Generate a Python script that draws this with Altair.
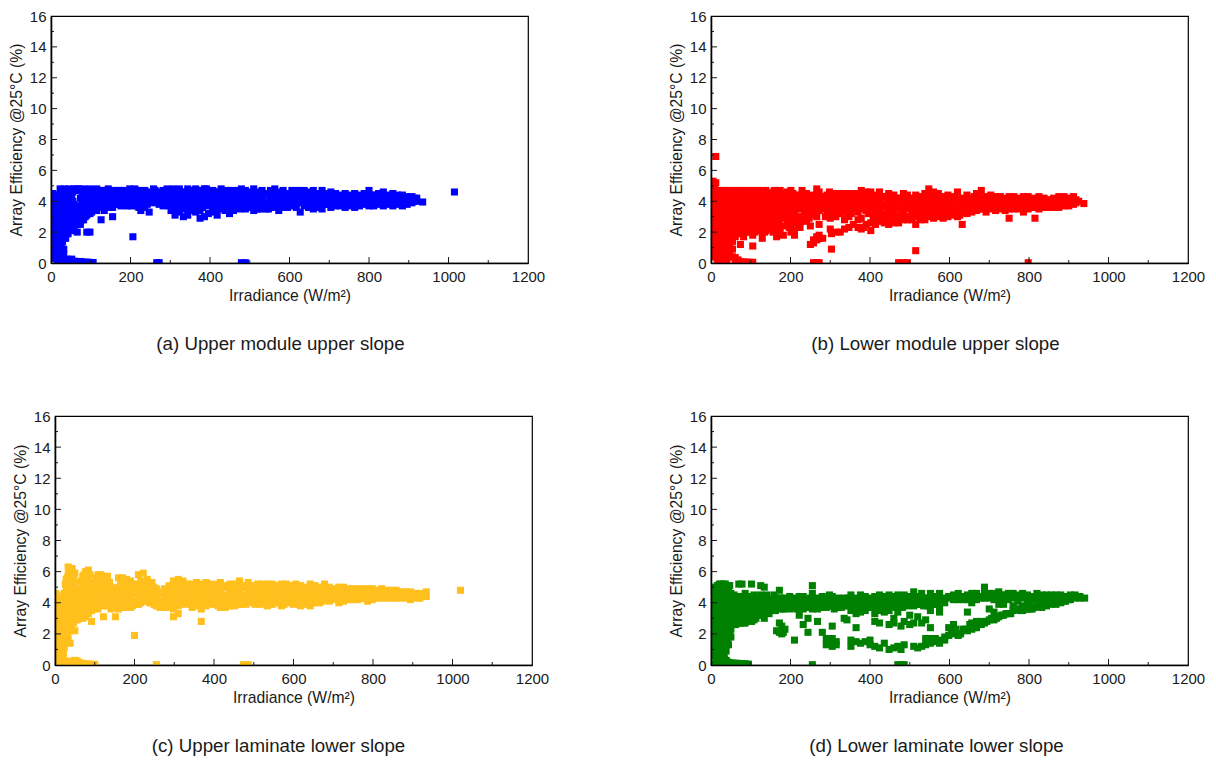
import altair as alt
import pandas as pd

# Each entry: irradiance (W/m2), then efficiency readings (%) seen in that column of points.
upper_module_upper_slope = [
 (1,[4.4,3.9,3.3,2.8,2.3,2.0]),(5,[4.5,3.8,3.2,2.6,2.1,1.5,1.0]),(9,[4.2,3.6,3.0,2.4,1.9,1.4,0.9,0.5]),
 (13,[3.9,3.3,2.7,2.2,1.7,1.2,0.7,0.3]),(18,[4.4,3.7,3.1,2.6,2.1,1.6,1.1,0.6,0.25]),(23,[4.8,4.2,3.6,3.0,2.5,2.0,1.5,1.0,0.5,0.15]),
 (29,[4.7,4.1,3.5,2.9,2.4,1.9,1.4,0.15]),(34,[4.8,3.8,3.3,2.8,2.3,1.8,0.12]),(40,[4.6,4.1,3.4,2.9,2.4,1.9,0.25]),
 (46,[4.8,4.4,3.8,3.2,2.7,2.2,0.2]),(52,[4.3,3.6,3.1,2.6,2.1,0.25]),(58,[4.8,3.8,3.3,2.8,2.3,0.12]),
 (66,[4.8,3.7,3.2,2.7,2.0,0.08]),(74,[4.7,4.2,3.5,3.0,2.5,0.1]),(82,[4.8,4.3,3.8,3.3,2.8,0.06]),(90,[4.6,4.0,3.5,3.1,2.0,0.06]),
 (98,[4.8,4.2,3.7,3.2,2.0,0.04]),(106,[4.5,4.1,3.4,0.03]),(115,[4.8,4.4,3.8,3.4]),(126,[4.7,4.2,3.6,2.8]),(134,[4.4,3.9,3.4]),
 (144,[4.8,4.3,3.8]),(155,[4.5,4.0,3.6,3.0]),(166,[4.3,3.8]),(176,[4.6,4.2,3.7]),(187,[4.4,3.9]),(198,[4.8,4.3,3.8]),(206,[4.5,1.7]),
 (216,[4.6,4.1,3.7]),(226,[4.3,3.9,3.4]),(236,[4.7,4.2,3.6]),(247,[4.6,4.0,3.3]),(258,[4.8,4.4,3.9]),(266,[4.5,4.1,0.02]),(272,[4.3,3.8,0.02]),
 (282,[4.7,4.2,3.7]),(292,[4.8,4.4,3.9]),(302,[4.5,4.0,3.4]),(312,[4.7,4.2,3.7,3.1]),(323,[4.8,4.3,3.9,3.3]),(333,[4.6,4.1,3.0]),
 (344,[4.8,4.4,3.7,3.1]),(354,[4.7,4.2,3.6]),(364,[4.8,4.4,3.9,3.3]),(375,[4.7,4.1,3.4,2.9]),(386,[4.8,4.3,3.8,3.0]),(396,[4.6,4.1,3.2]),
 (407,[4.7,4.2,3.7,3.3]),(418,[4.4,3.9,3.1]),(428,[4.8,4.3,3.6]),(438,[4.7,4.1,3.4]),(449,[4.6,4.0,3.2]),(459,[4.5,3.9,3.4]),
 (470,[4.7,4.2,3.6]),(479,[4.8,4.3,3.8,0.02]),(489,[4.7,4.1,3.5,0.02]),(499,[4.5,4.0,3.6]),(510,[4.8,4.3,3.7,3.4]),(520,[4.6,4.0,3.5]),
 (531,[4.7,4.2,3.7]),(541,[4.5,3.9,3.5]),(552,[4.7,4.1,3.6]),(563,[4.8,4.3,3.8]),(573,[4.6,4.0,3.4]),(584,[4.7,4.2,3.6]),
 (595,[4.5,4.0,3.6]),(606,[4.7,4.1,3.7]),(617,[4.6,4.2,3.6]),(627,[4.4,3.9,3.3]),(637,[4.7,4.1,3.7]),(648,[4.6,4.0,3.6]),
 (660,[4.7,4.2,3.5]),(671,[4.5,4.0,3.6]),(682,[4.7,4.1,3.5]),(693,[4.5,4.2,3.8]),(704,[4.6,4.0,3.6]),(716,[4.5,4.1,3.7]),
 (728,[4.4,4.0,3.7]),(740,[4.5,4.2,3.6]),(752,[4.4,4.0,3.7]),(764,[4.5,4.1,3.6]),(776,[4.4,4.0,3.7]),(788,[4.5,4.1,3.8]),
 (800,[4.7,4.2,3.7]),(812,[4.4,4.0,3.7]),(824,[4.5,4.1,3.8]),(836,[4.6,4.0,3.7]),(848,[4.4,4.1,3.8]),(860,[4.5,4.0,3.7]),
 (872,[4.4,4.1,3.8]),(884,[4.4,4.0,3.7]),(896,[4.3,4.0,3.8]),(908,[4.3,4.1,3.9]),(920,[4.2,4.0]),(935,[3.95]),(1015,[4.6]),
]
upper_module_fill = [
 (3,[4.1,3.6,3.0,2.5,1.7,1.2]),(7,[4.3,3.5,2.9,2.3,1.7,1.2,0.8]),(11,[3.9,3.3,2.7,2.1,1.6,1.1,0.7,0.3]),(15,[3.6,3.0,2.4,1.9,1.4,0.9,0.5,0.2]),
 (20,[4.1,3.4,2.8,2.3,1.8,1.3,0.8,0.4]),(26,[4.5,3.9,3.3,2.7,2.2,1.7,1.2,0.8,0.4,0.2]),(32,[4.4,3.7,3.1,2.6,2.1,1.6,0.9,0.6]),(37,[4.5,4.0,3.5,3.0,2.5,2.1,1.6]),
 (43,[4.6,3.7,3.2,2.7,2.2,1.9]),(49,[4.1,3.5,3.0,2.5,2.1]),(55,[4.6,4.0,3.4,2.9,2.4]),(62,[4.7,3.5,3.0,2.5]),(70,[4.8,3.5,3.0,2.6]),(78,[4.6,4.0,3.2,2.8]),
 (86,[4.6,4.1,3.6,3.0]),(94,[4.7,4.3,3.8,3.3]),(102,[4.7,4.3,3.8,3.3]),(110,[4.7,4.2,3.7]),(120,[4.6,4.1,3.6]),(130,[4.7,4.1,3.7]),(139,[4.6,4.1,3.6]),
 (149,[4.6,4.1,3.7]),(160,[4.7,4.2,3.8]),(171,[4.7,4.1,3.8]),(181,[4.7,4.1,3.8]),(192,[4.6,4.2,3.7]),(202,[4.1,3.7]),(211,[4.8,4.3,3.9]),(221,[4.7,4.1,3.6]),
 (231,[4.5,4.0]),(242,[4.4,3.8]),(252,[4.5,4.1]),(262,[4.7,4.2]),(277,[4.6,4.0]),(287,[4.5,4.0]),(297,[4.6,4.2,3.7]),(307,[4.8,4.2,3.8]),(318,[4.5,4.0,3.5]),
 (328,[4.6,4.1,3.6]),(339,[4.5,3.9,3.5]),(349,[4.6,4.0,3.4]),(359,[4.6,4.1,3.7]),(370,[4.6,4.2,3.6]),(381,[4.5,4.0,3.6]),(391,[4.8,4.4,3.7]),(402,[4.4,3.9]),
 (413,[4.6,4.1,3.5]),(423,[4.6,4.1,3.5]),(433,[4.6,4.0,3.7]),(444,[4.4,3.8,3.5]),(454,[4.7,4.2,3.7]),(465,[4.4,4.0,3.6]),(475,[4.6,4.0,3.5]),(484,[4.5,4.0,3.6]),
 (494,[4.4,3.9]),(505,[4.6,4.1,3.8]),(515,[4.5,4.1,3.9]),(526,[4.5,4.0,3.5]),(536,[4.4,3.9]),(547,[4.4,3.9,3.5]),(558,[4.5,4.0,3.6]),(568,[4.5,4.1,3.7]),
 (579,[4.4,3.9]),(590,[4.5,4.1,3.8]),(601,[4.4,3.9]),(612,[4.5,4.0]),(622,[4.7,4.1]),(632,[4.5,4.0]),(643,[4.4,3.9]),(654,[4.5,3.9]),(666,[4.5,3.9]),(677,[4.4,3.8]),
 (688,[4.4,3.9]),(699,[4.4,3.8]),(710,[4.4,3.9]),(722,[4.3,3.9]),(734,[4.3,3.9]),(746,[4.3,3.9]),(758,[4.3,3.9]),(770,[4.3,3.9]),(782,[4.3,3.9]),(794,[4.4,3.9]),
 (806,[4.4,3.9]),(818,[4.3,3.9]),(830,[4.3,3.9]),(842,[4.3,3.9]),(854,[4.3,3.9]),(866,[4.3,3.9]),(878,[4.2,3.9]),(890,[4.2,3.9]),(902,[4.2,4.0]),(914,[4.2,4.0]),
]

lower_module_upper_slope = [
 (1,[5.2,4.7,4.1,3.5,2.9,2.3,1.9]),(5,[5.3,4.8,4.2,3.6,3.0,2.4,1.8,1.3]),(9,[4.9,4.3,3.7,3.1,2.5,1.9,1.3,0.8]),(12,[6.9,5.2,4.5,3.9,3.3,2.7,2.1,1.6,1.1,0.5]),
 (17,[4.6,4.0,3.4,2.8,2.2,1.6,1.0,0.5,0.2]),(22,[4.7,4.1,3.5,2.9,2.3,1.7,1.2,0.7,0.15]),(28,[4.6,4.2,3.6,2.8,2.4,1.8,1.3,0.8,0.12]),
 (34,[4.7,4.1,3.5,3.1,2.5,2.0,1.4,0.9,0.3,0.1]),(40,[4.6,3.9,3.3,2.7,2.1,1.6,1.0,0.2]),(47,[4.7,4.2,3.6,3.0,2.4,1.8,1.2,0.6,0.4]),
 (54,[4.5,4.0,3.4,2.8,2.2,1.4,0.9,0.4]),(61,[4.7,4.1,3.5,2.9,2.3,1.7,0.35,0.15]),(68,[4.6,3.9,3.3,2.6,1.9,0.2]),(74,[4.7,4.2,3.6,3.0,2.4,1.2,0.08]),
 (82,[4.5,4.0,3.4,2.8,2.1,1.7,0.07]),(90,[4.7,4.1,3.6,3.0,2.3,0.06]),(98,[4.6,3.8,3.3,2.6,2.0,0.05]),(105,[4.7,4.2,3.5,2.9,1.8,1.1,0.04]),
 (113,[4.5,3.9,3.3,2.7,2.1]),(121,[4.7,4.1,3.6,3.0,2.4]),(129,[4.6,4.0,3.4,2.8,2.0,1.6]),(138,[4.7,3.8,3.2,2.6,2.1]),(146,[4.5,4.1,3.5,2.9,2.3]),
 (156,[4.6,3.9,3.4,2.4,2.0]),(165,[4.4,3.8,3.1,2.7,1.7]),(174,[4.7,4.2,3.6,3.0,2.0]),(182,[4.5,3.9,3.3,1.8]),(192,[4.6,4.1,3.5,2.5]),
 (201,[4.7,4.2,3.7,2.9,2.4,2.0]),(210,[4.4,3.8,3.2,2.6,2.1,1.8]),(220,[4.3,3.7,3.0,2.3]),(229,[4.7,4.2,3.5]),(240,[4.5,4.0,3.3,2.7]),
 (250,[4.3,3.7,3.1,2.4,1.2]),(258,[4.4,3.9,3.5,1.5,1.3,0.02]),(266,[4.8,4.2,3.6,3.0,1.7,1.5,0.02]),(272,[4.6,4.0,3.4,2.5,1.8,1.6,0.02]),(281,[4.3,3.7,1.6]),
 (292,[4.4,3.9,3.2]),(303,[4.2,3.6,3.1,1.9,0.9]),(314,[4.5,4.0,3.5,3.0,2.0]),(325,[4.4,3.8,3.2,2.0]),(336,[4.3,3.6,2.8,2.2]),
 (347,[4.5,4.0,3.4,3.0,2.3]),(358,[4.4,3.7,2.5]),(370,[4.3,3.9,3.3,2.8,2.3]),(378,[4.7,4.1,3.5,2.9,2.2]),(390,[4.6,4.0,3.4,2.5]),
 (402,[4.6,4.1,3.6,2.6,2.1]),(414,[4.3,3.8,3.2,2.5]),(424,[4.6,4.0,3.4,2.7]),(436,[4.3,3.7,3.1,2.6]),(447,[4.5,3.9,3.3,2.5]),(460,[4.4,3.8,3.2,2.6]),
 (472,[4.2,3.7,3.1,2.6,0.02]),(484,[4.5,3.9,3.3,2.8,0.02]),(494,[4.4,3.6,2.8,0.02]),(505,[4.2,3.9,3.3,2.8]),(515,[4.4,3.7,3.1,2.5,0.8]),(526,[4.3,3.9,3.2,2.8]),
 (538,[4.5,4.0,3.5,2.8]),(548,[4.8,4.2,3.6,3.0]),(560,[4.6,4.0,3.4,2.9]),(572,[4.5,3.9,3.3,3.0]),(584,[4.3,3.8,3.2,2.9]),(596,[4.4,3.9,3.4,3.0]),
 (608,[4.3,3.7,3.1]),(620,[4.6,4.0,3.5,3.0]),(632,[4.2,3.8,3.3,2.5]),(644,[4.4,3.9,3.2]),(656,[4.2,3.7,3.3]),(668,[4.5,4.1,3.4]),
 (680,[4.7,4.2,3.6]),(692,[4.3,3.8,3.3]),(704,[4.4,3.9,3.5]),(716,[4.3,3.8,3.4]),(728,[4.3,3.9,3.5]),(740,[4.2,3.8,3.4]),(750,[4.3,3.9,3.5,2.9]),
 (762,[4.3,3.9,3.5]),(774,[4.2,3.8,3.5]),(786,[4.3,3.9,3.3]),(798,[4.3,3.9,3.5,0.02]),(810,[4.2,3.8,3.6]),(815,[3.6,2.9]),(825,[4.3,3.9,3.5]),
 (838,[4.2,3.8,3.6]),(850,[4.1,3.9,3.6]),(862,[4.2,3.9,3.6]),(875,[4.3,3.9,3.6]),(888,[4.3,4.0,3.7]),(900,[4.2,3.9,3.7]),(912,[4.3,4.0,3.8]),(925,[4.0]),(938,[3.85]),
]
lower_module_fill = [
 (3,[4.4,3.8,3.2,2.6,2.0,1.5,1.0]),(7,[4.5,3.9,3.3,2.7,2.1,1.6,1.1,0.7]),(11,[4.1,3.5,2.9,2.3,1.8,1.4,0.9,0.4]),(15,[4.3,3.7,3.1,2.5,1.9,1.3,0.8,0.3]),
 (20,[4.4,3.8,3.2,2.6,2.0,1.4,0.9,0.4]),(25,[4.4,3.8,3.2,2.6,2.1,1.5,1.0,0.5,0.2]),(31,[4.4,3.9,3.3,2.7,2.1,1.6,1.1,0.6]),(37,[4.4,3.8,3.3,2.8,2.2,1.7,1.2,0.5]),
 (44,[4.4,3.7,3.1,2.5,1.9,1.4]),(51,[4.4,3.8,3.2,2.6,2.0]),(58,[4.3,3.7,3.1,2.5,2.0]),(65,[4.4,3.7,3.1,2.4]),(71,[4.4,3.9,3.3,2.7,2.1]),(78,[4.5,3.8,3.2,2.6]),
 (86,[4.4,3.8,3.2,2.5,2.0]),(94,[4.4,3.8,3.3,2.7]),(102,[4.4,3.9,3.2,2.6]),(109,[4.5,3.7,3.1,2.5]),(117,[4.3,3.8,3.2,2.6]),(125,[4.4,3.8,3.2]),(134,[4.4,3.6,3.0]),
 (142,[4.3,3.7,3.0]),(151,[4.3,3.7,3.1]),(160,[4.7,4.2,3.6]),(170,[4.5,4.0,3.4]),(178,[4.4,3.6]),(187,[4.3,3.7,3.0]),(196,[4.4,3.8,3.2]),(206,[4.5,4.0,3.5]),
 (215,[4.1,3.5,2.8]),(225,[4.4,3.9]),(235,[4.4,3.8,3.1]),(245,[4.1,3.5]),(262,[4.1,3.3]),(276,[4.2,3.7]),(287,[4.1,3.5]),(298,[4.6,4.0,3.4]),(309,[4.3,3.7,3.2]),
 (320,[4.2,3.6]),(331,[4.5,4.0,3.4]),(342,[4.2,3.7,3.2]),(353,[4.3,3.9,3.2]),(364,[4.5,4.0,3.5]),(384,[4.3,3.8,2.3]),(396,[4.4,3.8,3.2]),(408,[4.4,3.9,3.0]),
 (419,[4.1,3.5,2.9]),(430,[4.3,3.7,3.0]),(442,[4.1,3.5,2.9]),(453,[4.2,3.6,3.0]),(466,[4.2,3.6,2.9]),(478,[4.1,3.5,2.9]),(489,[4.2,3.7,3.0]),(500,[4.0,3.5,3.0]),
 (510,[4.1,3.5,3.0]),(521,[4.1,3.5,3.0]),(532,[4.2,3.7,3.1]),(543,[4.3,3.8,3.3]),(554,[4.4,3.8,3.2]),(566,[4.2,3.7,3.1]),(578,[4.1,3.6,3.1]),(590,[4.1,3.6,3.2]),
 (602,[4.1,3.5,3.2]),(614,[4.2,3.8,3.3]),(626,[4.1,3.5,3.1]),(638,[4.1,3.6,3.4]),(650,[4.0,3.5]),(662,[4.3,3.8,3.4]),(674,[4.3,3.9,3.5]),(686,[4.0,3.5]),(698,[4.2,3.6]),
 (710,[4.1,3.7]),(722,[4.1,3.6]),(734,[4.0,3.6]),(745,[4.1,3.6]),(756,[4.1,3.7]),(768,[4.0,3.6]),(780,[4.1,3.6]),(792,[4.1,3.6]),(804,[4.1,3.7]),(818,[4.0,3.7]),
 (832,[4.1,3.7]),(844,[4.0,3.7]),(856,[4.0,3.8]),(868,[4.1,3.7]),(881,[4.1,3.8]),(894,[4.1,3.8]),(906,[4.1,3.9]),(918,[4.1,3.9]),
]
lower_module_lower_edge = [
 (42,[2.9,2.4]),(56,[2.7,2.2]),(72,[2.8,2.3]),(84,[2.6,2.0]),(96,[2.9,2.4,2.1]),(110,[2.8,2.3,2.0]),(124,[2.7,2.3]),(135,[2.9,2.4,2.0]),(148,[2.7,2.2]),
 (160,[2.9,2.5,2.1]),(171,[2.6,2.2]),(185,[2.9,2.4]),(197,[2.8,2.3]),(207,[3.0,2.6]),(224,[2.7,2.3]),(236,[2.8]),(247,[2.9]),(288,[3.0]),(300,[2.9,2.2]),
]

upper_laminate_lower_slope = [
 (1,[4.6,4.0,3.4,2.8,2.2,1.6,1.0]),(5,[4.5,3.9,3.3,2.7,2.1,1.5,0.9,0.5]),(9,[4.2,3.6,3.0,2.4,1.8,1.2,0.6,0.3]),(14,[3.8,3.2,2.6,2.0,1.4,0.8,0.2]),
 (18,[4.0,3.4,2.8,2.2,1.6,1.0,0.4,0.15]),(23,[4.6,4.1,3.5,2.9,2.3,1.7,1.1,0.2]),(28,[5.5,4.8,4.2,3.6,3.0,2.4,1.8,1.4,0.15]),(33,[6.3,5.8,5.3,4.7,4.1,3.5,2.9,2.3,1.7,0.2]),
 (38,[6.1,5.6,5.0,4.4,3.8,3.2,2.6,1.4,0.25]),(43,[6.2,5.7,4.6,4.0,3.4,2.8,0.2]),(50,[5.9,5.3,4.8,4.2,3.6,3.0,2.2,0.3]),(56,[4.5,3.9,3.3,2.9,0.25]),(63,[4.3,3.7,3.1,0.15]),
 (70,[5.7,5.1,4.6,4.0,3.4,3.0,0.1]),(77,[6.0,5.3,4.8,4.2,3.6,3.1,0.08]),(84,[6.1,5.5,4.5,3.9,3.3,0.06]),(92,[5.2,4.7,4.1,3.5,2.8,0.05]),(100,[4.9,4.3,3.7,0.04]),
 (108,[5.8,5.3,4.7,4.2,3.6]),(115,[5.8,5.1,4.5,3.9]),(122,[5.7,5.2,4.6,4.1,3.1]),(132,[5.7,5.0,4.4,3.8]),(141,[5.0,4.5,4.0,3.6]),(152,[4.9,4.3,3.8,3.1]),
 (160,[5.6,5.0,4.4,3.6]),(170,[5.6,5.0,4.4,3.9]),(180,[5.5,4.9,4.3,3.8]),(190,[5.4,4.8,4.2,3.7]),(200,[5.0,4.6,4.0,1.9]),(210,[5.8,5.0,4.4,3.9]),
 (222,[5.9,5.3,4.7,4.2]),(232,[5.5,4.9,4.3]),(244,[5.3,4.7,4.0]),(255,[4.9,4.4,3.8,0.02]),(264,[4.7,4.1,3.7]),(275,[4.9,4.4,3.8]),(287,[5.1,4.5,3.7]),
 (298,[5.4,4.8,4.2,3.6,3.1]),(310,[5.5,4.9,4.3,3.8,3.3]),(322,[5.4,4.8,4.2,3.9]),(334,[5.2,4.6,4.0]),(345,[5.2,4.7,4.2,3.7]),(356,[5.3,4.8,4.3,3.8]),
 (368,[5.2,4.6,4.1,3.6,2.8]),(380,[5.3,4.7,4.2,3.8]),(392,[5.2,4.7,4.1]),(404,[5.1,4.5,4.0]),(416,[5.3,4.7,4.2,3.7]),(428,[5.1,4.5,4.0,3.7]),(440,[5.2,4.7,4.2,3.8]),
 (452,[5.2,4.6,4.1,3.8]),(464,[5.4,4.8,4.3,3.9]),(474,[5.1,4.5,4.0,0.02]),(486,[5.3,4.7,4.1,0.02]),(498,[4.9,4.4,4.0]),(510,[5.2,4.6,4.0]),(522,[5.2,4.7,4.2]),
 (534,[5.2,4.6,4.0,3.8]),(546,[5.2,4.6,4.1,3.9]),(558,[5.1,4.5,4.0]),(570,[5.2,4.6,4.1,3.8]),(582,[5.2,4.7,4.3,4.0]),(594,[5.1,4.5,4.0]),(606,[5.2,4.6,4.1]),
 (618,[5.1,4.5,4.0,3.8]),(630,[5.0,4.6,4.2,3.9]),(642,[5.2,4.6,4.1,3.8]),(654,[5.1,4.5,4.1,4.0]),(666,[5.0,4.4,4.0]),(678,[5.2,4.7,4.2]),(690,[5.0,4.5,4.1]),
 (702,[4.9,4.5,4.2]),(714,[5.0,4.5,4.0]),(726,[5.0,4.5,4.1]),(738,[4.9,4.4,4.2]),(750,[4.9,4.5,4.2]),(762,[4.9,4.4,4.2]),(774,[4.9,4.5,4.3]),(786,[4.9,4.5,4.1]),
 (798,[4.9,4.5,4.2]),(810,[4.8,4.5,4.3]),(822,[4.9,4.5,4.3]),(834,[4.8,4.5,4.3]),(846,[4.8,4.6,4.3]),(858,[4.8,4.5,4.3]),(870,[4.7,4.5,4.3]),(882,[4.7,4.5,4.3]),
 (894,[4.7,4.5,4.2]),(906,[4.6,4.4]),(918,[4.6,4.3]),(934,[4.7,4.4]),(1020,[4.8]),
]
upper_laminate_fill = [
 (3,[4.3,3.7,3.1,2.5,1.9,1.3,0.7]),(7,[4.3,3.7,3.1,2.5,1.9,1.3,0.8,0.4]),(11,[3.9,3.3,2.7,2.1,1.5,1.0,0.5,0.2]),(16,[3.6,3.0,2.4,1.8,1.2,0.6,0.3]),(21,[4.3,3.7,3.1,2.5,1.9,1.3,0.8,0.4]),
 (26,[5.2,4.5,3.9,3.3,2.7,2.1,1.5]),(31,[5.6,5.0,4.4,3.8,3.2,2.6,2.0]),(36,[5.9,5.3,4.7,4.1,3.5,2.9,2.2]),(41,[5.4,4.8,4.2,3.6,3.0,2.6]),(47,[5.5,5.0,4.4,3.8,3.2,2.7]),(53,[4.3,3.7,3.1]),
 (59,[4.7,4.1,3.5,3.0]),(66,[5.4,4.9,4.3,3.7,3.2]),(73,[5.8,5.4,4.9,4.3,3.8,3.3]),(80,[5.7,5.1,4.6,4.0,3.5]),(88,[5.8,5.3,4.9,4.4,3.8]),(96,[5.1,4.5,4.0,3.6]),(104,[5.6,5.1,4.5,4.0,3.7]),
 (112,[5.6,5.0,4.4,3.9]),(119,[5.5,4.9,4.3,3.8]),(127,[5.4,4.8,4.2,3.9]),(137,[5.3,4.7,4.2,3.8]),(146,[4.8,4.2,3.7]),(156,[4.6,4.1,3.7]),(165,[5.3,4.7,4.1,3.8]),(175,[5.3,4.7,4.1,3.7]),
 (185,[5.2,4.6,4.0]),(195,[5.2,4.6,4.0,3.8]),(205,[5.2,4.7,4.1,3.9]),(216,[5.4,4.9,4.3,4.0]),(227,[5.2,4.6,4.1]),(238,[5.1,4.5,4.0]),(249,[5.0,4.4,3.9]),(259,[4.6,4.0]),(270,[4.6,4.0]),
 (281,[4.8,4.2,3.7]),(292,[5.0,4.4,3.9]),(304,[5.2,4.6,4.0]),(316,[5.2,4.6,4.0]),(328,[5.1,4.5,4.1]),(340,[5.0,4.4,3.9]),(351,[5.0,4.5,4.0]),(362,[5.0,4.4,3.9]),(374,[5.0,4.4,3.9]),
 (386,[5.0,4.5,4.0]),(398,[5.0,4.4,3.9]),(410,[5.2,4.8,4.2,3.8]),(422,[5.0,4.4,3.9]),(434,[5.0,4.4,3.9]),(446,[5.0,4.4,3.9]),(458,[5.1,4.5,4.0]),(469,[5.0,4.4,3.9]),(480,[5.0,4.4,3.9]),
 (492,[5.1,4.6,4.1]),(504,[5.0,4.4,3.9]),(516,[5.0,4.4,3.9]),(528,[5.0,4.4,4.0]),(540,[5.0,4.4,3.9]),(552,[4.9,4.3,4.0]),(564,[4.9,4.4,4.0]),(576,[5.0,4.4,3.9]),(588,[5.0,4.4,4.1]),
 (600,[4.9,4.3,3.9]),(612,[4.9,4.3,4.0]),(624,[4.8,4.3]),(636,[4.9,4.4,4.0]),(648,[4.9,4.3,4.0]),(660,[4.8,4.3]),(672,[4.9,4.4,4.1]),(684,[4.8,4.3]),(696,[4.7,4.3]),(708,[4.7,4.3]),
 (720,[4.8,4.3]),(732,[4.7,4.3]),(744,[4.7,4.3]),(756,[4.7,4.3]),(768,[4.7,4.3]),(780,[4.7,4.3]),(792,[4.7,4.3]),(804,[4.7,4.4]),(816,[4.7,4.4]),(828,[4.7,4.4]),(840,[4.6,4.4]),(852,[4.7,4.4]),
 (864,[4.6,4.4]),(876,[4.6,4.4]),(888,[4.6,4.4]),(900,[4.6,4.4]),(912,[4.5,4.3]),(924,[4.5]),
]

lower_laminate_lower_slope = [
 (1,[5.0,4.4,3.8,3.2,2.6,2.0,1.5,0.02]),(4,[4.9,4.2,3.6,3.0,2.4,1.8,1.2,0.02]),(8,[4.4,3.7,3.1,2.5,1.9,1.3,0.02]),(12,[3.9,3.2,2.6,2.0,1.4,0.8,0.3]),
 (16,[5.1,4.5,3.9,3.3,2.7,2.1,1.5,0.9,0.4]),(21,[5.2,4.6,4.0,3.4,2.8,2.2,1.6,1.0,0.5,0.2]),(26,[5.2,4.7,4.1,3.5,2.9,2.3,1.7,1.1,0.4,0.2]),
 (31,[5.2,4.6,4.0,3.4,2.8,2.2,1.6,1.0,0.6,0.15]),(36,[5.2,4.7,4.2,3.6,3.0,2.4,1.8,1.2,0.2]),(41,[5.1,4.5,3.9,3.3,2.7,2.1,1.6,0.2]),(47,[5.1,4.4,3.8,3.2,2.6,2.0,0.15]),
 (54,[4.3,3.7,3.1,2.6,0.12]),(62,[4.2,3.6,3.0,2.6,0.12]),(70,[5.2,4.4,3.9,3.3,2.7,0.1]),(78,[5.2,4.1,3.5,2.9,0.08]),(86,[4.6,4.0,3.4,2.7,0.08]),(94,[4.3,3.7,3.1,0.06]),
 (102,[5.2,4.4,3.9,3.3,2.8]),(113,[4.2,3.6,3.0]),(125,[5.1,4.5,4.0,3.4]),(134,[5.0,4.2,3.6,3.0]),(146,[4.2,3.8,3.3]),(158,[4.5,4.0,3.5]),(165,[4.2,3.7,2.2]),
 (172,[4.8,4.3,3.8,2.7,2.1]),(178,[4.1,3.6,2.5,2.0]),(186,[4.3,3.8,2.3]),(198,[4.4,3.9,3.6]),(210,[4.3,3.8,1.6]),(222,[4.4,3.9,3.2]),(232,[4.4,4.0,3.6,2.6]),
 (244,[4.2,3.7,3.0,2.1]),(255,[5.1,4.6,4.0,3.6,0.02]),(265,[4.3,3.8]),(268,[4.1,3.6,2.8]),(280,[4.4,3.9,2.1]),(290,[4.3,3.7,1.7,1.3]),(298,[4.5,4.0,1.6]),
 (305,[4.4,3.8,2.5,1.7,1.2]),(315,[4.2,3.7,1.5,1.3]),(335,[4.3,3.8,3.0]),(342,[4.0,2.9]),(352,[4.5,4.0,3.5,1.6,1.2]),(365,[4.3,3.7,3.3,2.4,1.5]),(376,[4.5,3.9,3.4,1.4]),
 (388,[4.4,3.9,3.5,1.5]),(400,[4.3,3.8,1.6,1.3]),(412,[4.4,3.9,3.3,2.8,1.2]),(424,[4.5,4.0,3.5,2.7,1.1]),(436,[4.4,3.9,3.4,1.4]),(448,[4.5,4.0,3.5,2.6,1.0]),
 (460,[4.4,3.9,3.0,2.7,1.1]),(470,[4.5,3.9,3.4,1.2,0.02]),(478,[4.3,3.8,2.5,1.0,0.02]),(486,[4.5,4.0,2.8,1.3,0.02]),(500,[4.4,3.9,3.2,2.6]),(510,[4.7,4.2,3.8,2.7,1.2]),
 (520,[4.4,3.9,3.1,1.1]),(530,[4.6,4.0,2.7,1.2]),(540,[4.3,3.9,2.9,1.7,1.3]),(552,[4.6,4.1,3.5,2.4,1.7,1.4]),(564,[4.4,4.0,1.7,1.5]),(575,[4.6,3.7,3.4,1.6,1.4]),
 (588,[4.3,4.0,1.8,1.6]),(598,[4.4,2.4,1.9]),(610,[4.5,4.2,2.6,2.0]),(622,[4.6,4.2,2.0,1.9]),(634,[4.4,4.2,2.3]),(645,[4.5,4.2,3.4,2.2]),(656,[4.6,4.0,2.7,2.3]),
 (668,[4.6,4.2,2.8,2.4]),(680,[4.3,2.8,2.6]),(688,[5.0,4.6,4.3,2.7]),(700,[4.6,4.3,3.6,2.9]),(712,[4.6,4.2,3.4,2.9]),(724,[4.7,4.3,3.9,3.1]),(736,[4.5,3.9,3.2]),
 (748,[4.6,4.2,3.3]),(760,[4.6,4.3,3.8,3.5]),(772,[4.5,4.1,3.6]),(784,[4.6,4.3,3.8,3.5]),(796,[4.5,4.1,3.6]),(808,[4.4,4.2,3.6]),(820,[4.6,4.3,3.8]),(832,[4.5,4.1,3.7]),
 (844,[4.5,4.2,3.8]),(856,[4.5,4.2,3.9]),(868,[4.5,4.2,3.9]),(880,[4.5,4.2,4.0]),(892,[4.4,4.2,4.1]),(904,[4.5,4.3,4.2]),(916,[4.5,4.3]),(928,[4.4,4.3]),(940,[4.3]),
]
lower_laminate_fill = [
 (3,[4.7,4.0,3.4,2.8,2.2,1.7,1.3]),(6,[4.6,3.9,3.3,2.7,2.1,1.5,1.0]),(10,[4.2,3.5,2.9,2.3,1.7,1.1,0.6]),(14,[4.7,4.1,3.5,2.9,2.3,1.7,1.1,0.6,0.2]),(18,[4.8,4.2,3.6,3.0,2.4,1.8,1.2,0.7,0.3]),
 (23,[4.9,4.3,3.7,3.1,2.5,1.9,1.3,0.8,0.3]),(28,[5.0,4.4,3.8,3.2,2.6,2.0,1.4,0.8,0.3]),(33,[4.9,4.3,3.7,3.1,2.5,1.9,1.3,0.7,0.4]),(38,[4.9,4.4,3.8,3.2,2.6,2.1,1.5,0.9,0.3]),(44,[4.8,4.2,3.6,3.0,2.4,1.8,1.3]),
 (50,[4.6,4.0,3.4,2.8,2.3,1.8]),(58,[4.5,3.9,3.3,2.8]),(66,[4.4,3.8,3.2,2.7]),(74,[4.3,3.7,3.1,2.7]),(82,[4.4,3.8,3.2,2.7]),(90,[4.2,3.5,2.9]),(98,[4.2,3.6,3.0]),(108,[4.5,4.0,3.4,2.9]),
 (119,[4.3,3.8,3.2]),(130,[4.2,3.7,3.2]),(140,[4.5,4.0,3.5]),(152,[4.1,3.6]),(162,[4.3,3.8,3.5]),(176,[4.3,3.9]),(182,[4.1,3.6,2.1]),(192,[4.2,3.7]),(204,[4.2,3.7]),(216,[4.2,3.6]),
 (228,[4.2,3.7]),(238,[4.2,3.7]),(250,[4.3,3.8]),(260,[4.2,3.7]),(274,[4.2,3.7]),(285,[4.2,3.8]),(295,[4.2,3.8]),(310,[4.1,3.6]),(320,[4.3,3.9]),(328,[4.2,3.7]),(346,[4.3,3.8]),(358,[4.2,3.8]),
 (370,[4.1,3.6]),(382,[4.2,3.7]),(394,[4.1,3.7]),(406,[4.2,3.7]),(418,[4.2,3.8]),(430,[4.2,3.8]),(442,[4.2,3.7]),(454,[4.2,3.8]),(465,[4.2,3.7]),(474,[4.2,3.8]),(482,[4.1,3.7]),(494,[4.2,3.8]),
 (505,[4.1,4.0]),(515,[4.4,4.0]),(525,[4.3,3.9]),(535,[4.2,3.8]),(546,[4.3,3.8]),(558,[4.3,3.9]),(570,[4.2,3.9]),(582,[4.2]),(605,[4.3,2.2]),(616,[4.4,2.3]),(628,[4.4,2.0]),(640,[4.3,2.3]),
 (651,[4.4,2.6]),(662,[4.4,2.4]),(674,[4.4,2.6]),(694,[4.5,2.8]),(706,[4.4,3.0]),(718,[4.4,3.0]),(730,[4.5,4.1,3.2]),(742,[4.3,3.3]),(754,[4.4,3.3]),(766,[4.4,3.6]),(778,[4.4,3.5]),
 (790,[4.4,3.6]),(802,[4.3,3.8,3.6]),(814,[4.4,3.7]),(826,[4.4,4.0,3.8]),(838,[4.3,3.9]),(850,[4.4,4.0]),(862,[4.4,4.0]),(874,[4.3,4.1]),(886,[4.4,4.1]),(898,[4.3,4.2]),(910,[4.4]),
]

x_major = [200, 400, 600, 800, 1000]
x_minor = [100, 300, 500, 700, 900, 1100]
y_major = [2, 4, 6, 8, 10, 12, 14]
y_minor = [1, 3, 5, 7, 9, 11, 13, 15]
x_labels = [0, 200, 400, 600, 800, 1000, 1200]
y_labels = [0, 2, 4, 6, 8, 10, 12, 14, 16]

FONT = "Liberation Sans"
W = 477
X_SCALE = alt.Scale(domain=[0, 1200], nice=False)
Y_SCALE = alt.Scale(domain=[0, 16], nice=False)
COMMON = dict(tickSize=0, grid=False, format="d", domainColor="black", domainWidth=1.6,
              labelColor="#1a1a1a", titleColor="#1a1a1a", labelFont=FONT, titleFont=FONT,
              labelFontSize=15, titleFontSize=15.7, titleFontWeight="normal", labelOverlap=False, zindex=1)
X_AXIS = alt.Axis(values=x_labels, title="Irradiance (W/m\u00b2)", labelPadding=6, titlePadding=4, labelFlush=False, **COMMON)
Y_AXIS = alt.Axis(values=y_labels, title="Array Efficiency @25\u00b0C (%)", labelPadding=5, titlePadding=5, **COMMON)


def panel(columns, color, caption, caption_dx, H):
    df = pd.DataFrame([(x, y) for x, ys in columns for y in ys], columns=["x", "y"])
    points = alt.Chart(df).mark_square(size=50, color=color, opacity=1, clip=True).encode(
        x=alt.X("x:Q", scale=X_SCALE, axis=X_AXIS),
        y=alt.Y("y:Q", scale=Y_SCALE, axis=Y_AXIS),
    )
    layers = [points]
    for vals, length in ((x_major, 6), (x_minor, 3)):
        layers.append(alt.Chart(pd.DataFrame({"v": vals})).mark_rule(color="#1a1a1a", strokeWidth=1).encode(
            x=alt.X("v:Q", scale=X_SCALE, axis=X_AXIS), y=alt.value(H), y2=alt.value(H - length)))
    for vals, length in ((y_major, 6), (y_minor, 3)):
        layers.append(alt.Chart(pd.DataFrame({"v": vals})).mark_rule(color="#1a1a1a", strokeWidth=1).encode(
            y=alt.Y("v:Q", scale=Y_SCALE, axis=Y_AXIS), x=alt.value(0), x2=alt.value(length)))
    return alt.layer(*layers).properties(
        width=W, height=H,
        title=alt.TitleParams(text=caption, orient="bottom", anchor="middle", dx=caption_dx, offset=32,
                              font=FONT, fontSize=18.7, fontWeight="normal", color="#1a1a1a"),
    )


def gap(width):
    return alt.Chart(pd.DataFrame({"v": [0]})).mark_point(opacity=0, size=0).encode(
        x=alt.value(0), y=alt.value(0)
    ).properties(width=width, height=1, view=alt.ViewBackground(stroke=None))


a = panel(upper_module_upper_slope + upper_module_fill, "#0000ff", "(a) Upper module upper slope", -9, 247)
b = panel(lower_module_upper_slope + lower_module_fill + lower_module_lower_edge, "#ff0000", "(b) Lower module upper slope", -14, 247)
c = panel(upper_laminate_lower_slope + upper_laminate_fill, "#ffc01d", "(c) Upper laminate lower slope", -15, 249)
d = panel(lower_laminate_lower_slope + lower_laminate_fill, "#008000", "(d) Lower laminate lower slope", -13, 249)

chart = alt.vconcat(
    alt.hconcat(alt.hconcat(gap(1), a, spacing=0), b, spacing=121),
    alt.hconcat(alt.hconcat(gap(5), c, spacing=0), d, spacing=117),
    spacing=54,
).properties(padding={"left": -2, "top": 0, "right": 0, "bottom": 0}).configure_view(stroke="black", strokeWidth=1.2)

chart.save("out.html", embed_options={"renderer": "svg", "actions": False})
